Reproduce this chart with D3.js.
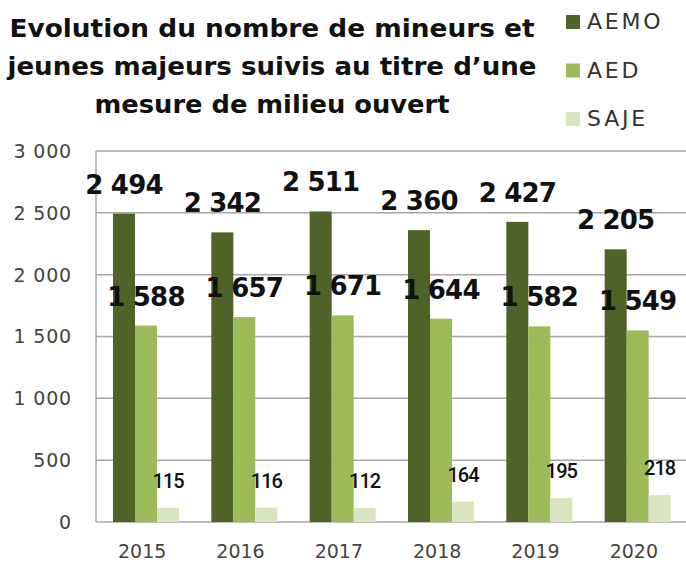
<!DOCTYPE html>
<html>
<head>
<meta charset="utf-8">
<script src="https://cdn.jsdelivr.net/npm/d3@7"></script>
<style>
  body { margin: 0; background: #fff; }
  svg { display: block; }
</style>
</head>
<body>
<svg id="chart" width="686" height="564"></svg>
<script>
const years = ["2015", "2016", "2017", "2018", "2019", "2020"];
const aemo = [2494, 2342, 2511, 2360, 2427, 2205];
const aed = [1588, 1657, 1671, 1644, 1582, 1549];
const saje = [115, 116, 112, 164, 195, 218];
const seriesNames = ["AEMO", "AED", "SAJE"];
const seriesColors = ["#4f6228", "#9bbb59", "#d7e4bd"];
const yTicks = [0, 500, 1000, 1500, 2000, 2500, 3000];
const titleLines = ["Evolution du nombre de mineurs et", "jeunes majeurs suivis au titre d\u2019une", "mesure de milieu ouvert"];

const fr = d3.formatLocale({ decimal: ",", thousands: "\u00a0", grouping: [3], currency: ["", " €"] });
const fmt = fr.format(",d");

const svg = d3.select("#chart");
const plotLeft = 96, plotRight = 686, plotTop = 151, plotBottom = 522;

const x = d3.scaleBand(years, [plotLeft, plotRight]);
const xs = d3.scaleBand(seriesNames, [17, 17 + 66]);
const y = d3.scaleLinear([0, 3000], [plotBottom, plotTop]);

const rows = years.map((yr, i) => ({ year: yr, values: [aemo[i], aed[i], saje[i]] }));

// grid
svg.append("g").selectAll("line").data(yTicks).join("line")
  .attr("x1", plotLeft).attr("x2", plotRight)
  .attr("y1", d => y(d)).attr("y2", d => y(d))
  .attr("stroke", "#a6a6a6").attr("stroke-width", 1.5);
svg.append("line").attr("x1", plotLeft).attr("x2", plotLeft).attr("y1", plotTop).attr("y2", plotBottom)
  .attr("stroke", "#a6a6a6").attr("stroke-width", 1.5);

// y labels
svg.append("g").selectAll("text").data(yTicks).join("text")
  .attr("x", 72).attr("y", d => y(d)).attr("dy", "0.36em")
  .attr("text-anchor", "end")
  .attr("font-family", "DejaVu Sans").attr("font-size", 19).attr("fill", "#444")
  .attr("letter-spacing", 0.8)
  .text(d => fmt(d));

// x labels
svg.append("g").selectAll("text").data(years).join("text")
  .attr("x", d => x(d) + x.bandwidth() / 2 - 3).attr("y", 558)
  .attr("text-anchor", "middle")
  .attr("font-family", "DejaVu Sans").attr("font-size", 19).attr("fill", "#444")
  .text(d => d);

// bars
const groups = svg.append("g").selectAll("g").data(rows).join("g")
  .attr("transform", d => `translate(${x(d.year)},0)`);

groups.selectAll("rect").data(d => d.values.map((v, k) => ({ name: seriesNames[k], v, k }))).join("rect")
  .attr("x", d => xs(d.name)).attr("width", xs.bandwidth())
  .attr("y", d => y(d.v)).attr("height", d => y(0) - y(d.v))
  .attr("fill", d => seriesColors[d.k]);

groups.selectAll("text").data(d => d.values.map((v, k) => ({ name: seriesNames[k], v, k }))).join("text")
  .attr("x", d => xs(d.name) + xs.bandwidth() / 2)
  .attr("y", d => y(d.v) - 20)
  .attr("text-anchor", "middle")
  .attr("font-family", d => d.k < 2 ? "DejaVu Sans" : "Roboto")
  .attr("font-weight", d => d.k < 2 ? 700 : 500)
  .attr("font-size", d => d.k < 2 ? 26 : 20)
  .attr("letter-spacing", d => d.k < 2 ? -0.8 : -1)
  .attr("fill", "#111")
  .text(d => fmt(d.v));

// title
const titleWidths = [525, 529, 355];
svg.append("g").selectAll("text").data(titleLines).join("text")
  .attr("x", 272).attr("y", (d, i) => 37 + i * 38)
  .attr("text-anchor", "middle")
  .attr("font-family", "DejaVu Sans").attr("font-weight", 700).attr("font-size", 25)
  .attr("fill", "#111")
  .attr("textLength", (d, i) => titleWidths[i]).attr("lengthAdjust", "spacingAndGlyphs")
  .text(d => d);

// legend
const legend = svg.append("g").selectAll("g").data(seriesNames).join("g")
  .attr("transform", (d, i) => `translate(566,${15 + i * 48.5})`);
legend.append("rect").attr("width", 14).attr("height", 14)
  .attr("fill", (d, i) => seriesColors[i]);
legend.append("text").attr("x", 21).attr("y", 14)
  .attr("font-family", "DejaVu Sans").attr("font-size", 22).attr("fill", "#333")
  .attr("letter-spacing", 2.8)
  .text(d => d);
</script>
</body>
</html>
